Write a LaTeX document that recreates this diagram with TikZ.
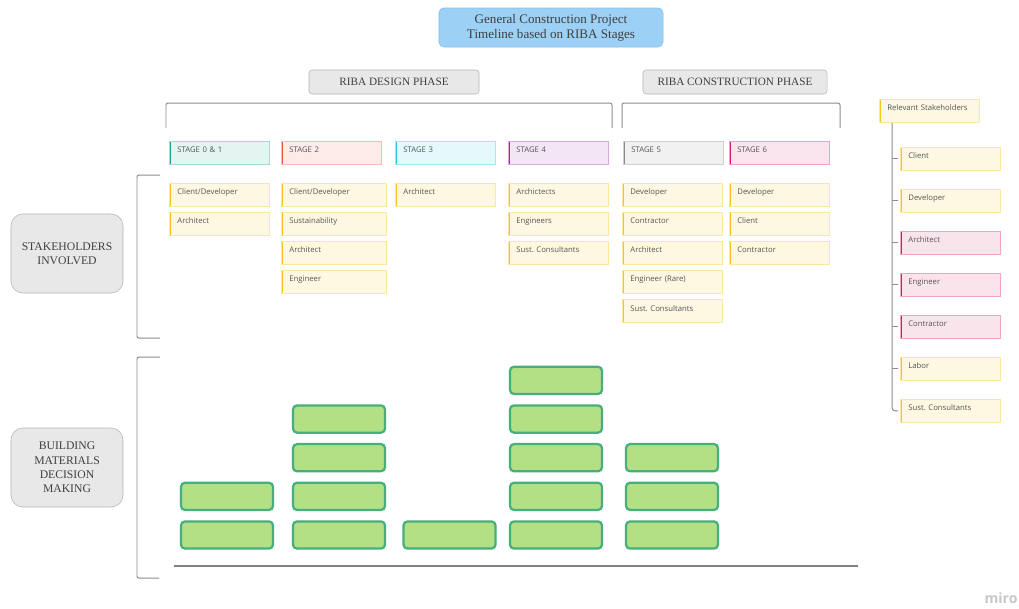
\documentclass[tikz,border=0pt]{standalone}
\usepackage{fontspec}
\setmainfont{Liberation Serif}
\newfontfamily\cardfont{Open Sans}
\usetikzlibrary{positioning}

\definecolor{titleblue}{HTML}{9DD0F5}
\definecolor{titleline}{HTML}{86BEEA}
\definecolor{phasegray}{HTML}{E8E8E8}
\definecolor{phaseline}{HTML}{B5B5B5}
\definecolor{inkgray}{HTML}{3F3F3F}
\definecolor{cardink}{HTML}{555555}
\definecolor{bracketgray}{HTML}{8C8C8C}
\definecolor{stickyellow}{HTML}{F5C518}
\definecolor{stickpink}{HTML}{D81B60}
\definecolor{teal01}{HTML}{1AA58D}
\definecolor{red02}{HTML}{E8553E}
\definecolor{cyan03}{HTML}{27C4DA}
\definecolor{purple04}{HTML}{9C27B0}
\definecolor{gray05}{HTML}{8A8A8A}
\definecolor{pink06}{HTML}{D81B72}
\definecolor{barfill}{HTML}{B3DF85}
\definecolor{barline}{HTML}{45B07C}
\definecolor{groundgray}{HTML}{808080}

\begin{document}
\begin{tikzpicture}[
    x=0.025cm, y=-0.025cm,
    titlebox/.style={rectangle, rounded corners=0.12cm, draw=titleline, fill=titleblue, minimum width=5.6cm, minimum height=0.975cm, align=center, text=inkgray, font=\fontsize{9.3}{10.8}\selectfont},
    phase/.style={rectangle, rounded corners=0.08cm, draw=phaseline, fill=phasegray, minimum height=0.6cm, text=inkgray, font=\fontsize{8}{9.6}\selectfont},
    rowlabel/.style={rectangle, rounded corners=0.3cm, draw=phaseline, fill=phasegray, minimum width=2.8cm, minimum height=1.975cm, align=center, text=inkgray, font=\fontsize{8.3}{10.2}\selectfont},
    sticky/.style={rectangle, draw=#1!40, fill=#1!12, line width=0.5pt, text=cardink, font=\cardfont\frenchspacing\fontsize{5.5}{6.6}\selectfont, inner xsep=0.2cm, inner ysep=0pt, text width=2.1cm, align=left, text height=8pt, text depth=8.4pt, path picture={\fill[#1] (path picture bounding box.north west) rectangle ([xshift=0.05cm]path picture bounding box.south west);}},
    card/.style={sticky=stickyellow},
    pinkcard/.style={sticky=stickpink},
    wide/.style={text width=2.225cm},
    bar/.style={rectangle, rounded corners=0.1cm, draw=barline, fill=barfill, line width=1.6pt, minimum width=2.3cm, minimum height=0.68cm},
    bracket/.style={draw=bracketgray, line width=0.7pt, rounded corners=0.05cm},
    treeline/.style={draw=bracketgray, line width=0.7pt}
]

\fill[white] (0,0) rectangle (1019,608);
\useasboundingbox (0,0) rectangle (1019,608);

% title and phases
\node (title) [titlebox] at (551,27.5) {General Construction Project\\Timeline based on RIBA Stages};
\node (design) [phase, minimum width=4.25cm] at (394,82) {RIBA DESIGN PHASE};
\node (build) [phase, minimum width=4.6cm] at (735,82) {RIBA CONSTRUCTION PHASE};

\draw[bracket] (166,128) |- (612,103) -- (612,128);
\draw[bracket] (622,128) |- (840,103) -- (840,128);

% row labels
\node (who) [rowlabel] at (67,253.5) {STAKEHOLDERS\\INVOLVED};
\node (mats) [rowlabel] at (67,467.5) {BUILDING\\MATERIALS\\DECISION\\MAKING};

\draw[bracket] (160,175) -| (137,338) -- (160,338);
\draw[bracket] (160,357) -| (137,578) -- (159,578);

% stage headers
\node (s01) [sticky=teal01, anchor=north west] at (169,141) {STAGE 0 \& 1};
\node (s02) [sticky=red02, anchor=north west] at (281,141) {STAGE 2};
\node (s03) [sticky=cyan03, anchor=north west] at (395,141) {STAGE 3};
\node (s04) [sticky=purple04, anchor=north west] at (508,141) {STAGE 4};
\node (s05) [sticky=gray05, anchor=north west] at (623,141) {STAGE 5};
\node (s06) [sticky=pink06, anchor=north west] at (729,141) {STAGE 6};

% stakeholders per stage
\node (c01a) [card, below=0.465cm of s01] {Client/Developer};
\node (c01b) [card, below=0.131cm of c01a] {Architect};

\node (c02a) [card, wide, below=0.465cm of s02, xshift=0.0625cm] {Client/Developer};
\node (c02b) [card, wide, below=0.131cm of c02a] {Sustainability};
\node (c02c) [card, wide, below=0.131cm of c02b] {Architect};
\node (c02d) [card, wide, below=0.131cm of c02c] {Engineer};

\node (c03a) [card, below=0.465cm of s03] {Architect};

\node (c04a) [card, below=0.465cm of s04] {Archictects};
\node (c04b) [card, below=0.131cm of c04a] {Engineers};
\node (c04c) [card, below=0.131cm of c04b] {Sust. Consultants};

\node (c05a) [card, below=0.465cm of s05, xshift=-0.025cm] {Developer};
\node (c05b) [card, below=0.131cm of c05a] {Contractor};
\node (c05c) [card, below=0.131cm of c05b] {Architect};
\node (c05d) [card, below=0.131cm of c05c] {Engineer (Rare)};
\node (c05e) [card, below=0.131cm of c05d] {Sust. Consultants};

\node (c06a) [card, below=0.465cm of s06] {Developer};
\node (c06b) [card, below=0.131cm of c06a] {Client};
\node (c06c) [card, below=0.131cm of c06b] {Contractor};

% legend
\node (rel) [card, anchor=north west] at (879,99) {Relevant Stakeholders};
\node (lg1) [card, anchor=north west] at (900,147) {Client};
\node (lg2) [card, below=0.456cm of lg1] {Developer};
\node (lg3) [pinkcard, below=0.456cm of lg2] {Architect};
\node (lg4) [pinkcard, below=0.456cm of lg3] {Engineer};
\node (lg5) [pinkcard, below=0.456cm of lg4] {Contractor};
\node (lg6) [card, below=0.456cm of lg5] {Labor};
\node (lg7) [card, below=0.456cm of lg6] {Sust. Consultants};

\coordinate (trunk) at ([xshift=0.325cm]rel.south west);
\draw[treeline] (trunk |- lg1.west) -- ([xshift=-0.05cm]lg1.west)
                (trunk |- lg2.west) -- ([xshift=-0.05cm]lg2.west)
                (trunk |- lg3.west) -- ([xshift=-0.05cm]lg3.west)
                (trunk |- lg4.west) -- ([xshift=-0.05cm]lg4.west)
                (trunk |- lg5.west) -- ([xshift=-0.05cm]lg5.west)
                (trunk |- lg6.west) -- ([xshift=-0.05cm]lg6.west);
\draw[treeline, rounded corners=0.08cm] (trunk) |- ([xshift=-0.05cm]lg7.west);

% materials decisions
\node (b1a) [bar] at (227,535) {};
\node (b1b) [bar, above=0.23cm of b1a] {};

\node (b2a) [bar] at (339,535) {};
\node (b2b) [bar, above=0.23cm of b2a] {};
\node (b2c) [bar, above=0.23cm of b2b] {};
\node (b2d) [bar, above=0.23cm of b2c] {};

\node (b3a) [bar] at (449.5,535) {};

\node (b4a) [bar] at (556,535) {};
\node (b4b) [bar, above=0.23cm of b4a] {};
\node (b4c) [bar, above=0.23cm of b4b] {};
\node (b4d) [bar, above=0.23cm of b4c] {};
\node (b4e) [bar, above=0.23cm of b4d] {};

\node (b5a) [bar] at (672,535) {};
\node (b5b) [bar, above=0.23cm of b5a] {};
\node (b5c) [bar, above=0.23cm of b5b] {};

\coordinate (g0) at (174,566);
\coordinate (g1) at (858,566);
\draw[groundgray, line width=2.1pt] (g0) -- (g1);

\node (miro) [text=black!22, font=\cardfont\bfseries\fontsize{10}{12}\selectfont] at (1001,598) {miro};
\end{tikzpicture}
\end{document}
